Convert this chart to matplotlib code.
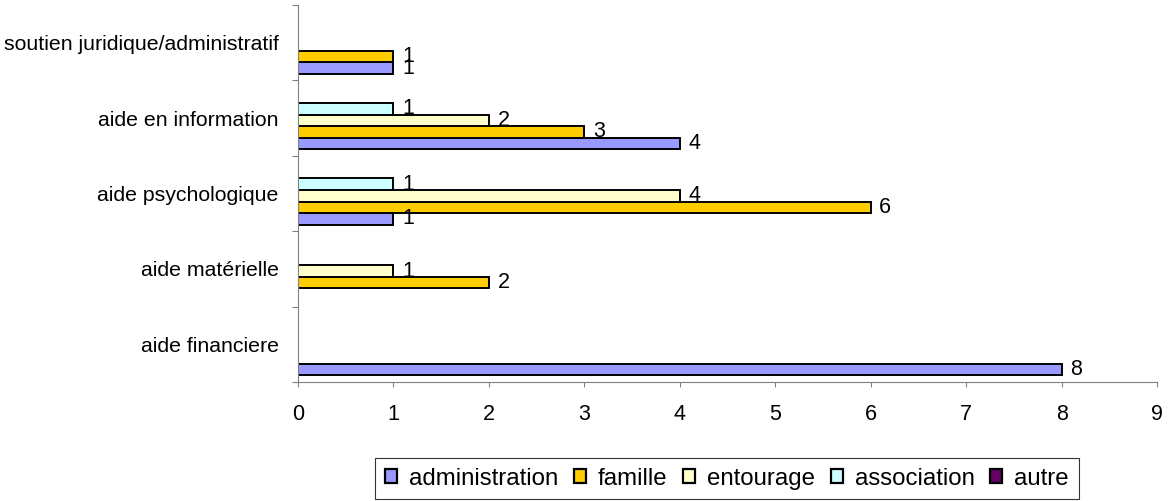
import matplotlib
matplotlib.use("Agg")
import matplotlib.pyplot as plt
import numpy as np

plt.rcParams['font.family'] = ['Liberation Sans', 'DejaVu Sans']

categories = ["aide financiere", "aide matérielle", "aide psychologique",
              "aide en information", "soutien juridique/administratif"]
series = ["administration", "famille", "entourage", "association", "autre"]
administration = [8, 0, 1, 4, 1]
famille = [0, 2, 6, 3, 1]
entourage = [0, 1, 4, 2, 0]
association = [0, 0, 1, 1, 0]
autre = [0, 0, 0, 0, 0]
colors = ["#9999FF", "#FFCC00", "#FFFFCC", "#CCFFFF", "#660066"]

values = [administration, famille, entourage, association, autre]

fig = plt.figure(figsize=(11.68, 5.01), dpi=100)
ax = fig.add_axes([0.2551, 0.2375, 0.7355, 0.7525])

y = np.arange(len(categories))
w = 0.153
for k, (name, vals, col) in enumerate(zip(series, values, colors)):
    pos = y + (k - 2) * w - 0.03
    ax.barh(pos, vals, height=w, color=col, edgecolor="black",
            linewidth=1.4, label=name)
    for p, v in zip(pos, vals):
        if v > 0:
            ax.text(v + 0.09, p, str(v), va="center", ha="left", fontsize=15.5)

ax.set_xlim(0, 9)
ax.set_ylim(-0.5, len(categories) - 0.5)
ax.set_xticks(range(10))
ax.set_yticks(np.arange(-0.5, len(categories), 1.0))
ax.set_yticklabels([])
ax.set_yticks(y, minor=True)
ax.set_yticklabels(categories, minor=True)
ax.tick_params(axis="y", which="minor", length=0, pad=14, labelsize=15.3)
ax.tick_params(axis="y", which="major", length=4.3, color="#808080")
ax.tick_params(axis="x", length=3.6, color="#808080", labelsize=15.5, pad=12)
for s in ["top", "right"]:
    ax.spines[s].set_visible(False)
for s in ["left", "bottom"]:
    ax.spines[s].set_color("#808080")

leg = fig.legend(loc="upper center", bbox_to_anchor=(0.6224, 0.0858), ncol=5,
                 fontsize=17.3, frameon=True, fancybox=False, edgecolor="black",
                 handlelength=0.5, handleheight=0.5, handletextpad=0.5,
                 columnspacing=0.65, borderpad=0.4, borderaxespad=0)
leg.get_frame().set_linewidth(0.8)
for h in leg.legend_handles:
    h.set_linewidth(1.6)

fig.savefig("out.png", dpi=100)
